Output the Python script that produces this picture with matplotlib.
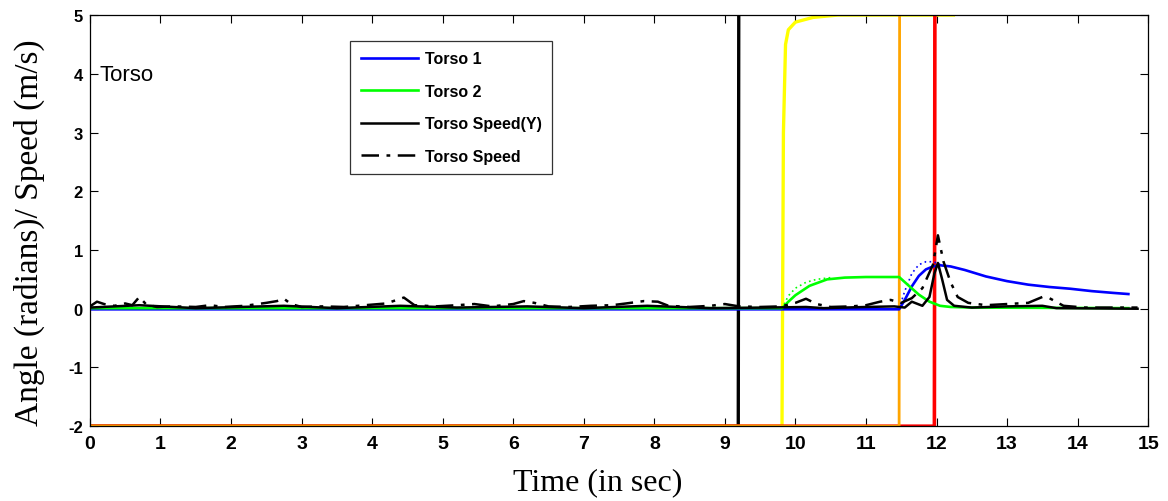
import matplotlib
matplotlib.use('Agg')
import matplotlib.pyplot as plt

plt.rcParams['axes.unicode_minus'] = False

# --- data ---
t1 = [0, 11.47, 11.55, 11.65, 11.75, 11.85, 11.95, 12.05, 12.2, 12.4, 12.7,
      13.0, 13.3, 13.6, 13.9, 14.2, 14.5, 14.72]
torso1 = [-0.01, -0.01, 0.15, 0.38, 0.56, 0.67, 0.72, 0.74, 0.72, 0.66, 0.55,
          0.47, 0.41, 0.37, 0.34, 0.30, 0.27, 0.25]

t1_ref = [11.47, 11.55, 11.65, 11.75, 11.85, 11.95, 12.05]
torso1_ref = [0.0, 0.3, 0.6, 0.75, 0.8, 0.8, 0.76]

t2 = [0, 9.81, 9.9, 10.0, 10.2, 10.45, 10.7, 11.0, 11.47, 11.6, 11.75,
      11.9, 12.05, 12.2, 12.5, 14.72]
torso2 = [0.01, 0.01, 0.12, 0.23, 0.39, 0.5, 0.53, 0.54, 0.54, 0.4, 0.24,
          0.12, 0.05, 0.03, 0.02, 0.01]

t2_ref = [9.81, 9.9, 10.0, 10.15, 10.3, 10.5]
torso2_ref = [0.0, 0.22, 0.35, 0.45, 0.5, 0.53]

ty = [0, 0.7, 1.5, 2.75, 3.5, 4.4, 5.2, 6.2, 7.0, 7.9, 8.8, 9.6, 10.15, 10.4,
      11.0, 11.4, 11.55, 11.65, 11.8, 11.9, 11.97, 12.02, 12.08, 12.15, 12.25,
      12.5, 13.0, 13.5, 13.7, 14.85]
speed_y = [0.02, 0.06, 0.01, 0.05, 0.01, 0.05, 0.02, 0.04, 0.01, 0.05, 0.01,
           0.02, 0.03, 0.01, 0.03, 0.04, 0.02, 0.12, 0.05, 0.2, 0.6, 0.78, 0.5,
           0.15, 0.05, 0.02, 0.04, 0.05, 0.01, 0.0]

ts = [0, 0.1, 0.2, 0.35, 0.5, 0.6, 0.7, 0.8, 0.95, 1.2, 1.5, 1.7, 1.9, 2.2,
      2.5, 2.65, 2.75, 2.85, 3.0, 3.3, 3.6, 3.9, 4.2, 4.35, 4.45, 4.6, 4.9,
      5.2, 5.45, 5.7, 6.0, 6.15, 6.3, 6.5, 6.8, 7.1, 7.4, 7.6, 7.85, 8.05,
      8.2, 8.5, 8.8, 9.0, 9.2, 9.5, 9.8, 10.0, 10.15, 10.3, 10.5, 10.8, 11.0,
      11.2, 11.35, 11.5, 11.65, 11.8, 11.95, 12.02, 12.1, 12.2, 12.3, 12.45,
      12.7, 13.0, 13.3, 13.5, 13.6, 13.8, 14.1, 14.4, 14.85]
speed = [0.04, 0.12, 0.08, 0.05, 0.09, 0.06, 0.2, 0.07, 0.03, 0.04, 0.03,
         0.06, 0.03, 0.05, 0.1, 0.13, 0.17, 0.08, 0.03, 0.04, 0.03, 0.06,
         0.09, 0.15, 0.19, 0.06, 0.04, 0.06, 0.08, 0.04, 0.08, 0.13, 0.1,
         0.04, 0.03, 0.05, 0.06, 0.09, 0.13, 0.12, 0.05, 0.03, 0.05, 0.08,
         0.04, 0.03, 0.04, 0.1, 0.17, 0.08, 0.03, 0.04, 0.06, 0.12, 0.15,
         0.1, 0.18, 0.35, 0.75, 1.25, 0.8, 0.45, 0.2, 0.1, 0.06, 0.08, 0.1,
         0.2, 0.18, 0.05, 0.02, 0.02, 0.02]

# step-like signals (clipped at the top of the axes)
t_black = [0, 9.19, 9.2]
v_black = [-2, -2, 8]
t_yellow = [0, 9.81, 9.83, 9.86, 9.9, 10.0, 10.25, 10.6, 12.24]
v_yellow = [-2, -2, 3.0, 4.5, 4.75, 4.88, 4.96, 5.0, 5.0]
t_red = [0, 11.97, 11.98]
v_red = [-2, -2, 8]
t_orange = [0, 11.47, 11.48]
v_orange = [-2, -2, 8]

xticks = list(range(0, 16))
yticks = list(range(-2, 6))

fig = plt.figure(figsize=(11.68, 5.02), dpi=100)
ax = fig.add_axes([0.077, 0.149, 0.906, 0.819])

ax.plot(t_black, v_black, color='black', lw=2.4)
ax.plot(t_yellow, v_yellow, color='#ffff00', lw=2.4)
ax.plot(t_red, v_red, color='#ff0000', lw=2.6)
ax.plot(t_orange, v_orange, color='#ffa500', lw=2.0)

ax.plot(t1_ref, torso1_ref, color='#0000ff', lw=1.2, ls=(0, (1, 2)))
ax.plot(t2_ref, torso2_ref, color='#00ff00', lw=1.2, ls=(0, (1, 2)))
ax.plot(t1, torso1, color='#0000ff', lw=1.9, label='Torso 1')
ax.plot(t2, torso2, color='#00ff00', lw=1.9, label='Torso 2')
ax.plot(ty, speed_y, color='black', lw=1.8, label='Torso Speed(Y)')
ax.plot(ts, speed, color='black', lw=1.8, ls=(0, (7, 3, 1.5, 3)),
        label='Torso Speed')

ax.set_xlim(0, 15)
ax.set_ylim(-2, 5)
ax.set_xticks(xticks)
ax.set_yticks(yticks)
ax.tick_params(direction='in', length=6, width=0.8, top=True, right=True)
for lab in ax.get_xticklabels():
    lab.set_family(['Liberation Sans Narrow', 'Liberation Sans', 'DejaVu Sans'])
    lab.set_fontweight('bold')
    lab.set_fontsize(14)
for lab in ax.get_yticklabels():
    lab.set_family(['Liberation Sans', 'DejaVu Sans'])
    lab.set_fontweight('bold')
    lab.set_fontsize(12)
ax.tick_params(axis='x', pad=6)
ax.tick_params(axis='y', pad=5)

for s in ax.spines.values():
    s.set_linewidth(0.9)

ax.set_xlabel('Time (in sec)', family='Liberation Serif', fontsize=23,
              va='center')
ax.xaxis.set_label_coords(0.48, -0.134)
ax.set_ylabel('Angle (radians)/ Speed (m/s)', family='Liberation Serif',
              fontsize=24, va='center')
ax.yaxis.set_label_coords(-0.057, 0.474)

ax.text(0.14, 3.99, 'Torso', family='Liberation Sans', fontsize=16, va='center')

leg = ax.legend(loc='upper left', bbox_to_anchor=(0.246, 0.937),
                prop={'family': 'Liberation Sans', 'weight': 'bold', 'size': 11.5},
                frameon=True, fancybox=False, edgecolor='black',
                handlelength=3.6, labelspacing=1.1, borderpad=0.65,
                handletextpad=0.4, borderaxespad=0)
leg.get_frame().set_linewidth(0.9)

fig.savefig('out.png', dpi=100)
